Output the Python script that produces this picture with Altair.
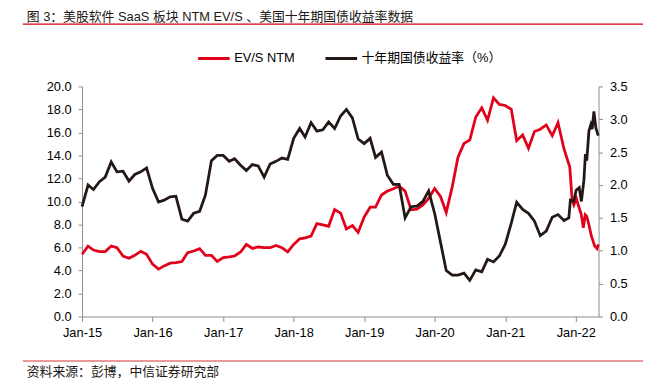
import altair as alt
import pandas as pd

# ---------------- data ----------------
month_dates = [d.strftime("%Y-%m-%d") for d in pd.date_range("2015-01-01", periods=84, freq="MS")]

evs_monthly = [
    5.41, 6.12, 5.78, 5.64, 5.64, 6.12, 5.98, 5.26, 5.06, 5.32, 5.67, 5.41,
    4.55, 4.12, 4.40, 4.64, 4.69, 4.78, 5.55, 5.69, 5.90, 5.32, 5.32, 4.78,
    5.12, 5.18, 5.26, 5.61, 6.27, 5.92, 6.04, 5.98, 5.98, 6.18, 5.98, 5.61,
    6.27, 6.75, 6.84, 6.98, 8.07, 7.96, 7.84, 9.30, 8.99, 7.61, 7.90, 7.32,
    8.64, 9.50, 9.50, 10.56, 10.90, 11.10, 11.33, 10.90, 9.27, 9.33, 9.70, 10.27,
    11.13, 10.41, 9.04, 11.27, 13.85, 15.05, 15.34, 17.34, 18.14, 17.06, 19.00, 18.43,
    18.34, 18.00, 15.28, 15.79, 14.62, 16.08, 16.28, 16.65, 15.71, 16.85, 14.56, 12.99,
]
evs_tail_dates = [
    "2021-12-13", "2021-12-22", "2022-01-04", "2022-01-16", "2022-01-30",
    "2022-02-09", "2022-02-19", "2022-02-27", "2022-03-10", "2022-03-23",
    "2022-04-09", "2022-04-21", "2022-04-28",
]
evs_tail = [10.13, 9.70, 10.27, 9.56, 8.84, 7.70, 8.84, 8.70, 7.98, 6.98, 6.12, 5.90, 6.27]

yield_monthly = [
    1.67, 2.00, 1.93, 2.05, 2.12, 2.35, 2.20, 2.21, 2.06, 2.16, 2.20, 2.26,
    1.95, 1.74, 1.77, 1.82, 1.83, 1.48, 1.45, 1.57, 1.60, 1.85, 2.37, 2.45,
    2.45, 2.36, 2.40, 2.30, 2.22, 2.31, 2.29, 2.12, 2.32, 2.36, 2.41, 2.39,
    2.71, 2.86, 2.73, 2.95, 2.82, 2.84, 2.96, 2.86, 3.05, 3.15, 3.02, 2.70,
    2.63, 2.71, 2.42, 2.50, 2.15, 2.01, 2.01, 1.50, 1.67, 1.68, 1.75, 1.91,
    1.57, 1.12, 0.70, 0.63, 0.63, 0.66, 0.55, 0.71, 0.68, 0.87, 0.83, 0.92,
    1.10, 1.42, 1.74, 1.63, 1.57, 1.45, 1.23, 1.30, 1.51, 1.55, 1.46,
]
yield_tail_dates = [
    "2021-11-26", "2021-12-04", "2021-12-21", "2022-01-03", "2022-01-19",
    "2022-01-30", "2022-02-12", "2022-02-20", "2022-02-27", "2022-03-10",
    "2022-03-20", "2022-03-27", "2022-04-05", "2022-04-15", "2022-04-27",
]
yield_tail = [1.50, 1.77, 1.75, 1.92, 1.96, 1.75, 2.07, 2.47, 2.37, 2.82, 2.92, 2.85, 3.12, 2.87, 2.75]

SERIES = ["EV/S NTM", "十年期国债收益率（%）"]
COLORS = ["#e2001a", "#231815"]
TITLE = "图 3：美股软件 SaaS 板块 NTM EV/S 、美国十年期国债收益率数据"
SOURCE = "资料来源：彭博，中信证券研究部"
left_ticks = [0, 2, 4, 6, 8, 10, 12, 14, 16, 18, 20]
right_ticks = [0, 0.5, 1.0, 1.5, 2.0, 2.5, 3.0, 3.5]

evs_df = pd.DataFrame({"date": month_dates + evs_tail_dates,
                       "value": evs_monthly + evs_tail,
                       "series": SERIES[0]})
yld_df = pd.DataFrame({"date": month_dates[:83] + yield_tail_dates,
                       "value": yield_monthly + yield_tail,
                       "series": SERIES[1]})

FONT = "Liberation Sans, Arial, Noto Sans CJK SC"
AXIS_GRAY = "#8c8c8c"

x_enc = alt.X(
    "date:T",
    scale=alt.Scale(type="utc",
                    domain=[alt.DateTime(year=2015, month=1, date=1, utc=True),
                            alt.DateTime(year=2022, month=4, date=29, utc=True)]),
    axis=alt.Axis(title=None,
                  labelExpr="utcFormat(datum.value, '%b-%y')",
                  values=[alt.DateTime(year=y, month=1, date=1, utc=True) for y in range(2015, 2023)],
                  grid=False, domainColor=AXIS_GRAY, tickColor=AXIS_GRAY, tickSize=5,
                  labelPadding=5, labelFontSize=13, labelFont=FONT, labelColor="#000000",
                  labelFlush=False),
)

color_enc = alt.Color("series:N",
                      scale=alt.Scale(domain=SERIES, range=COLORS),
                      legend=alt.Legend(title=None, orient="none", legendX=116, legendY=-46,
                                        direction="horizontal", symbolType="stroke",
                                        symbolSize=1024, symbolStrokeWidth=3,
                                        labelFontSize=13, labelFont=FONT, labelColor="#000000",
                                        labelOffset=3, columnPadding=24))

red = alt.Chart(evs_df).mark_line(strokeWidth=2.8, strokeJoin="miter").encode(
    x=x_enc,
    y=alt.Y("value:Q", scale=alt.Scale(domain=[0, 20], nice=False),
            axis=alt.Axis(title=None, orient="left", values=left_ticks, format=".1f",
                          grid=False, domainColor=AXIS_GRAY, tickColor=AXIS_GRAY, tickSize=4,
                          labelPadding=7, labelFontSize=13, labelFont=FONT, labelColor="#000000")),
    color=color_enc,
)

black = alt.Chart(yld_df).mark_line(strokeWidth=2.8, strokeJoin="miter").encode(
    x=x_enc,
    y=alt.Y("value:Q", scale=alt.Scale(domain=[0, 3.5], nice=False),
            axis=alt.Axis(title=None, orient="right", values=right_ticks, format=".1f",
                          grid=False, domainColor=AXIS_GRAY, tickColor=AXIS_GRAY, tickSize=4,
                          labelPadding=7, labelFontSize=13, labelFont=FONT, labelColor="#000000")),
    color=color_enc,
)

one = pd.DataFrame({"t": [TITLE], "s": [SOURCE]})

title_text = alt.Chart(one).mark_text(align="left", baseline="middle", fontSize=13,
                                      font=FONT, color="#231815").encode(
    x=alt.value(-56), y=alt.value(-70), text="t:N")
title_rule = alt.Chart(one).mark_rule(color="#d0000f", strokeWidth=1.2).encode(
    x=alt.value(-60), x2=alt.value(570), y=alt.value(-63))
source_rule = alt.Chart(one).mark_rule(color="#e89a9a", strokeWidth=2).encode(
    x=alt.value(-60), x2=alt.value(570), y=alt.value(278))
source_text = alt.Chart(one).mark_text(align="left", baseline="middle", fontSize=13,
                                       font=FONT, color="#231815").encode(
    x=alt.value(-56), y=alt.value(289), text="s:N")

chart = alt.layer(red, black, title_text, title_rule, source_rule, source_text).resolve_scale(
    y="independent"
).properties(
    width=523, height=233,
    autosize=alt.AutoSizeParams(type="none"),
    padding={"left": 75, "top": 77, "right": 45, "bottom": 70},
    background="white",
).configure_view(stroke=None)

chart.save("out.html", embed_options={"renderer": "svg", "actions": False})
